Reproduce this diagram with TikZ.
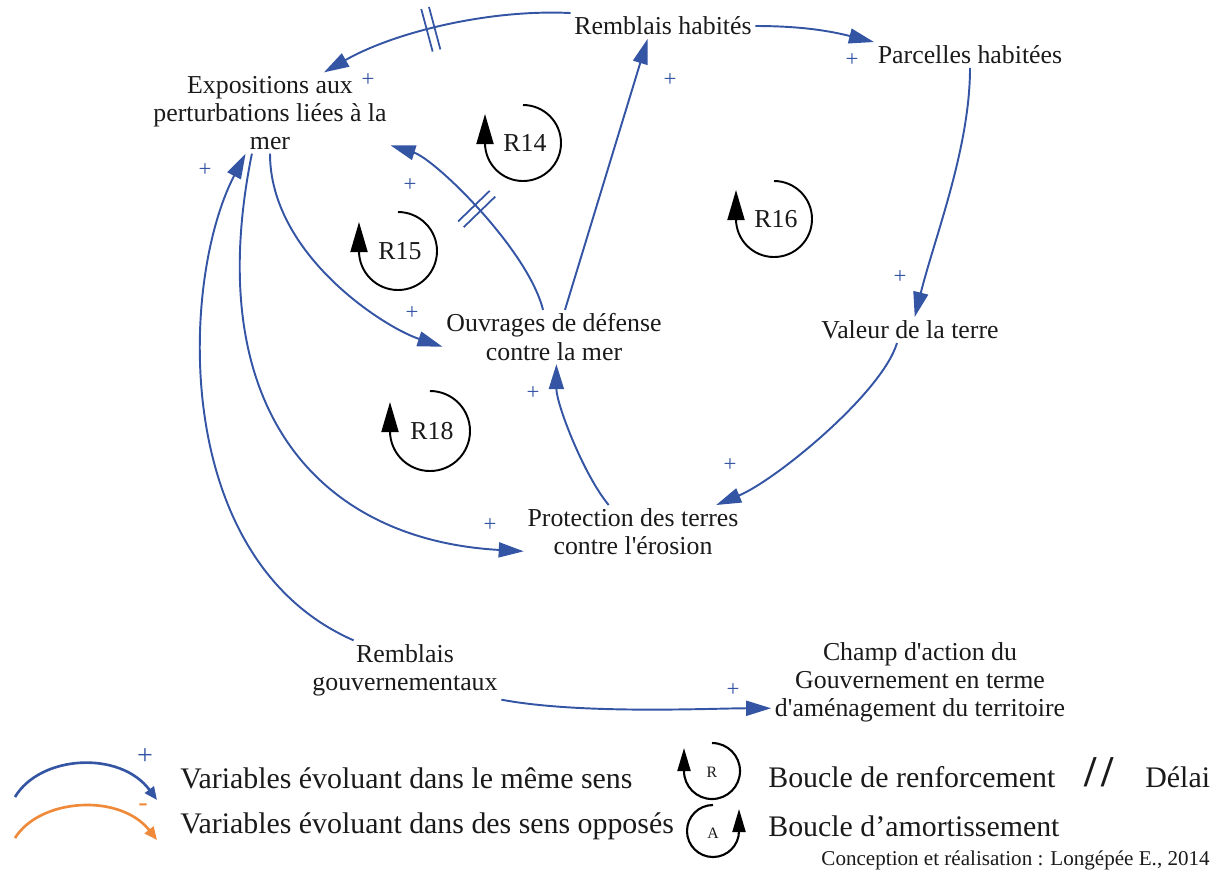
\documentclass[tikz,border=0pt]{standalone}
\usepackage{fontspec}
\setmainfont{Liberation Serif}[Ligatures=TeXOff]
\usepackage{xcolor}
\usepackage{tikz}
\usetikzlibrary{arrows.meta,positioning,decorations.markings}
\definecolor{LoopBlue}{HTML}{3454A4}
\definecolor{LoopOrange}{HTML}{EE8A3A}
\definecolor{LoopInk}{HTML}{1A1A1A}

\begin{document}
\begin{tikzpicture}[
  x=0.02cm, y=-0.02cm,
  every node/.style={font=\fontsize{14.7}{16}\selectfont, text=LoopInk},
  factor/.style={align=center, inner sep=2pt},
  link/.style={-{Triangle[length=0.5cm, width=0.3cm]}, line width=1.1pt, color=LoopBlue},
  sign/.style={text=LoopBlue, font=\fontsize{13}{13}\selectfont, inner sep=0pt},
  delay/.style={postaction={decorate, decoration={markings, mark=at position #1 with {\draw[LoopBlue, line width=1pt, -] (-4,-22) -- (-4,22) (4,-22) -- (4,22);}}}},
  loopline/.style={-{Triangle[length=0.6cm, width=0.34cm]}, line width=1.1pt, color=black},
  legloop/.style={-{Triangle[length=0.46cm, width=0.26cm]}, line width=1.2pt, color=black},
  legarc/.style={-{Triangle[length=0.26cm, width=0.22cm]}, line width=1.5pt},
  legend/.style={font=\fontsize{17}{20}\selectfont, anchor=west, inner sep=0pt}
]
\useasboundingbox (0,0) rectangle (1219,877);

% variables
\node[factor] (rh) at (663,26) {Remblais habités};
\node[factor] (ph) at (970,55) {Parcelles habitées};
\node[factor] (ex) at (270,113) {Expositions aux\\perturbations liées à la\\mer};
\node[factor] (ov) at (554,337) {Ouvrages de défense\\contre la mer};
\node[factor] (vt) at (910,330) {Valeur de la terre};
\node[factor] (pt) at (633,532) {Protection des terres\\contre l'érosion};
\node[factor] (rg) at (405,670) {Remblais\\gouvernementaux};
\node[factor] (ca) at (920,682) {Champ d'action du\\Gouvernement en terme\\d'aménagement du territoire};

% causal links
\draw[link, delay=0.55] (rh.north west) .. controls +(-82,-4) and +(70,-40) .. (ex.37);
\draw[link] (rh.east) .. controls +(50,0) and +(-40,-10) .. (ph.north west);
\draw[link] (ph.south) .. controls +(0,80) and +(20,-80) .. (vt.70);
\draw[link] (vt.225) .. controls +(-15,50) and +(60,-25) .. (pt.18);
\draw[link] (ov.68) -- (rh.220);
\draw[link, delay=0.53] (ov.112) .. controls +(-15,-60) and +(45,14) .. (ex.345);
\draw[link] (pt.132) .. controls +(-25,-30) and +(0,40) .. (ov.275);
\draw[link] (ex.south) .. controls +(0,100) and +(-60,-20) .. (ov.185);
\draw[link] (ex.246) .. controls (200,410) and (320,540) .. (pt.190);
\draw[link] (rg.150) .. controls (170,560) and (180,280) .. (ex.239);
\draw[link] (rg.south east) .. controls +(80,15) and +(-60,0) .. (ca.190);

% polarities
\foreach \pos [count=\i] in {(368,80),(852,60),(670,80),(900,277),(730,465),(410,185),(205,170),(412,313),(533,393),(490,525),(733,690)}
  \node[sign] (s\i) at \pos {+};

% loops
\draw[loopline] (523,105) arc[start angle=-90, end angle=180, radius=38] -- ++(0,-29);
\node (r14) at (525,143) {R14};
\draw[loopline] (398,212) arc[start angle=-90, end angle=180, radius=39] -- ++(0,-29);
\node (r15) at (400,251) {R15};
\draw[loopline] (774,181) arc[start angle=-90, end angle=180, radius=38] -- ++(0,-29);
\node (r16) at (776,219) {R16};
\draw[loopline] (430,391) arc[start angle=-90, end angle=180, radius=40] -- ++(0,-29);
\node (r18) at (432,431) {R18};

% legend
\coordinate (bluefrom) at (15,797);
\coordinate (blueto) at (157,800);
\draw[legarc, LoopBlue] (bluefrom) .. controls (40,755) and (120,750) .. (blueto);
\node[sign, font=\fontsize{16}{16}\selectfont] (plus) at (145,757) {+};
\coordinate (orangefrom) at (15,838);
\coordinate (orangeto) at (157,840);
\draw[legarc, LoopOrange] (orangefrom) .. controls (40,798) and (120,793) .. (orangeto);
\node[text=LoopOrange, font=\fontsize{16}{16}\selectfont, inner sep=0pt] (minus) at (143,808) {-};
\node[legend] (lsame) at (180,778) {Variables évoluant dans le même sens};
\node[legend] (lopp) at (180,826) {Variables évoluant dans des sens opposés};

\draw[legloop] (712,743) arc[start angle=-90, end angle=180, radius=28] -- ++(0,-23);
\node[font=\fontsize{9}{9}\selectfont] (lr) at (712,772) {R};
\draw[legloop] (713,805) arc[start angle=270, end angle=0, radius=26] -- ++(0,-22);
\node[font=\fontsize{9}{9}\selectfont] (la) at (713,833) {A};
\node[legend] (lrenf) at (768,777) {Boucle de renforcement};
\node[legend] (lamort) at (768,826) {Boucle d’amortissement};
\node[legend, font=\fontsize{25}{25}\selectfont\bfseries] (ldel) at (1084,772) {/\kern3pt/};
\node[legend] (ldelai) at (1145,777) {Délai};
\node[anchor=east, font=\fontsize{12}{14}\selectfont, inner sep=0pt] (credit) at (1210,860) {Conception et réalisation : Longépée E., 2014};
\end{tikzpicture}
\end{document}
